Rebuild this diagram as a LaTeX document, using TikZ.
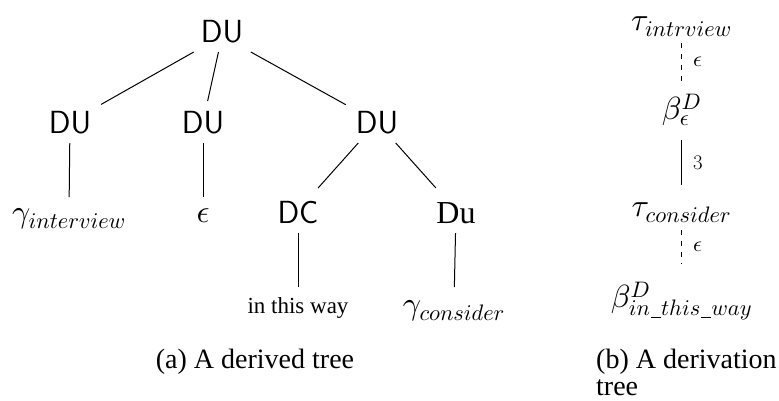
\documentclass[tikz,border=0pt]{standalone}
\usepackage{fontspec}
\newfontfamily\serifb{Liberation Serif}
\DeclareFontFamily{OML}{cmm}{\skewchar\font'177}
\DeclareFontShape{OML}{cmm}{m}{it}{<-8>cmmi7 <8->cmmi10}{}
\DeclareFontShape{OML}{cmm}{b}{it}{<->cmmib10}{}
\newcommand\usc{\kern0.5pt\lower2.5pt\hbox{\vrule width 10pt height 0.9pt depth 0pt}\kern0.5pt}
\tikzset{
  lbl/.style={inner sep=0pt, outer sep=0pt, anchor=base},
  catsf/.style={lbl, font=\fontsize{32}{38}\selectfont\sffamily, inner xsep=10pt},
  catrm/.style={lbl, font=\fontsize{32}{38}\selectfont\serifb, inner xsep=10pt},
  leaf/.style={lbl, font=\fontsize{32}{38}\selectfont},
  wordleaf/.style={lbl, font=\fontsize{23}{28}\selectfont\serifb},
  dnode/.style={lbl, font=\fontsize{32}{38}\selectfont},
  elabel/.style={inner sep=0pt, anchor=west, xshift=11pt, font=\fontsize{22}{26}\selectfont},
  edge/.style={line width=1pt},
  dedge/.style={line width=1pt, dash pattern=on 5pt off 6pt},
  capt/.style={inner sep=0pt, anchor=base, text depth=0pt, font=\fontsize{28}{33}\selectfont\serifb},
}
\begin{document}
\begin{tikzpicture}[x=1pt,y=-1pt]
\useasboundingbox (0,0) rectangle (779,400);
% derived tree
\node[catsf, text height=22pt, text depth=10pt] (r) at (222,42) {DU};
\node[catsf, text height=32pt, text depth=10pt] (u1) at (70,133) {DU};
\node[catsf, text height=32pt, text depth=10pt] (u2) at (203,133) {DU};
\node[catsf, text height=32pt, text depth=10pt] (u3) at (377,133) {DU};
\node[catsf, text height=35pt, text depth=10pt] (dc) at (298,223) {DC};
\node[catrm, text height=35pt, text depth=10pt] (du) at (456,223) {Du};
\node[leaf, text height=25pt, text depth=6pt] (g1) at (69,222) {$\gamma_{interview}$};
\node[leaf, text height=25pt, text depth=6pt] (e1) at (203,222) {$\epsilon$};
\node[wordleaf, text height=26pt, text depth=6pt] (w) at (298,313) {in this way};
\node[leaf, text height=27pt, text depth=6pt] (g2) at (454,314) {$\gamma_{consider}$};
\draw[edge] (r) -- (u1);
\draw[edge] (r) -- (u2);
\draw[edge] (r) -- (u3);
\draw[edge] (u1) -- (g1);
\draw[edge] (u2) -- (e1);
\draw[edge] (u3) -- (dc);
\draw[edge] (u3) -- (du);
\draw[edge] (dc) -- (w);
\draw[edge] (du) -- (g2);
% derivation tree
\node[dnode, text height=22pt, text depth=13pt] (t1) at (681.5,30) {$\tau_{intrview}$};
\node[dnode, text height=38pt, text depth=21pt] (b1) at (681.5,119) {$\beta^D_\epsilon$};
\node[dnode, text height=31pt, text depth=14pt] (t2) at (681.5,216) {$\tau_{consider}$};
\node[dnode, text height=43pt, text depth=10pt] (b2) at (681.5,307) {$\beta^D_{in\usc this\usc way}$};
\draw[dedge] (t1) -- node[elabel] {$\epsilon$} (b1);
\draw[edge] (b1) -- node[elabel] {$3$} (t2);
\draw[dedge] (t2) -- node[elabel] {$\epsilon$} (b2);
% captions
\node[capt] (ca) at (255,368) {(a) A derived tree};
\node[capt, anchor=base west] (cb1) at (596,368) {(b) A derivation};
\node[capt, anchor=base west] (cb2) at (596,395) {tree};
\end{tikzpicture}
\end{document}
